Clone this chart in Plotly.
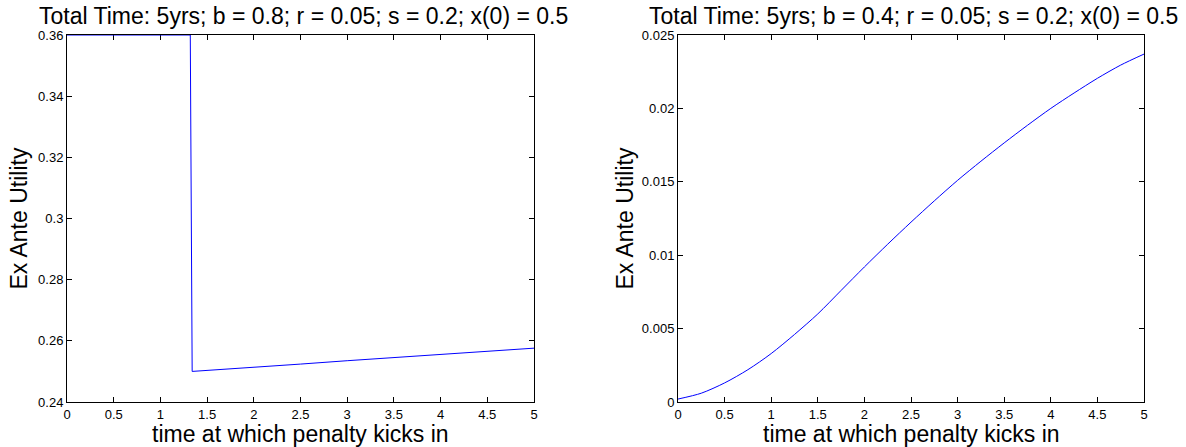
import plotly.graph_objects as go

# Left panel (b = 0.8)
left_t = [0.0, 1.32, 1.34, 1.6, 2.0, 2.5, 3.0, 3.5, 4.0, 4.5, 5.0]
left_u = [0.36, 0.36, 0.2500, 0.2505, 0.2514, 0.2524, 0.2535, 0.2545, 0.2555, 0.2566, 0.2576]

# Right panel (b = 0.4)
right_t = [0.0, 0.25, 0.5, 0.75, 1.0, 1.25, 1.5, 1.75, 2.0, 2.25, 2.5, 2.75,
           3.0, 3.25, 3.5, 3.75, 4.0, 4.25, 4.5, 4.75, 5.0]
right_u = [0.0002, 0.0006, 0.0013, 0.0022, 0.0033, 0.0046, 0.0060, 0.0076,
           0.0092, 0.01075, 0.01225, 0.0137, 0.0151, 0.0164, 0.01765, 0.01885,
           0.0200, 0.02105, 0.02205, 0.02295, 0.0237]

titles = ["Total Time: 5yrs; b = 0.8; r = 0.05; s = 0.2; x(0) = 0.5",
          "Total Time: 5yrs; b = 0.4; r = 0.05; s = 0.2; x(0) = 0.5"]
x_label = "time at which penalty kicks in"
y_label = "Ex Ante Utility"
x_ticks = [0, 0.5, 1, 1.5, 2, 2.5, 3, 3.5, 4, 4.5, 5]
x_tick_text = ["0", "0.5", "1", "1.5", "2", "2.5", "3", "3.5", "4", "4.5", "5"]
left_y_ticks = [0.24, 0.26, 0.28, 0.3, 0.32, 0.34, 0.36]
left_y_text = ["0.24", "0.26", "0.28", "0.3", "0.32", "0.34", "0.36"]
right_y_ticks = [0, 0.005, 0.01, 0.015, 0.02, 0.025]
right_y_text = ["0", "0.005", "0.01", "0.015", "0.02", "0.025"]

W, H = 1186, 447
FONT = "Liberation Sans, Arial, Helvetica, sans-serif"
TITLE_SIZE = 23
LABEL_SIZE = 23
TICK_SIZE = 13

fig = go.Figure()
fig.add_trace(go.Scatter(x=left_t, y=left_u, mode="lines", cliponaxis=False,
                         line=dict(color="#0000ff", width=1), xaxis="x", yaxis="y",
                         showlegend=False))
fig.add_trace(go.Scatter(x=right_t, y=right_u, mode="lines", cliponaxis=False,
                         line=dict(color="#0000ff", width=1, shape="spline", smoothing=0.8),
                         xaxis="x2", yaxis="y2", showlegend=False))

ydom = [(H - 402) / H, (H - 35) / H]
lx = [67 / W, 534 / W]
rx = [678 / W, 1144 / W]

common = dict(showgrid=False, zeroline=False, showline=True, linecolor="black",
              linewidth=1, mirror="ticks", ticks="inside", ticklen=5,
              tickcolor="black", automargin=False, layer="below traces",
              tickfont=dict(size=TICK_SIZE, color="black", family=FONT))

fig.update_layout(
    width=W, height=H,
    margin=dict(l=0, r=0, t=0, b=0, autoexpand=False),
    paper_bgcolor="white", plot_bgcolor="white",
    font=dict(family=FONT, color="black"),
    xaxis=dict(domain=lx, range=[0, 5], tickvals=x_ticks, ticktext=x_tick_text,
               anchor="y", **common),
    yaxis=dict(domain=ydom, range=[0.24, 0.36], tickvals=left_y_ticks,
               ticktext=left_y_text, anchor="x", **common),
    xaxis2=dict(domain=rx, range=[0, 5], tickvals=x_ticks, ticktext=x_tick_text,
                anchor="y2", **common),
    yaxis2=dict(domain=ydom, range=[0, 0.025], tickvals=right_y_ticks,
                ticktext=right_y_text, anchor="x2", **common),
)

ann = []
for dom, title in ((lx, titles[0]), (rx, titles[1])):
    cx = (dom[0] + dom[1]) / 2
    ann.append(dict(text=title, x=cx + 3 / W, y=(H - 16) / H, xref="paper", yref="paper",
                    xanchor="center", yanchor="middle", showarrow=False,
                    font=dict(size=TITLE_SIZE, family=FONT, color="black")))
    ann.append(dict(text=x_label, x=cx, y=(H - 434) / H,
                    xref="paper", yref="paper", xanchor="center", yanchor="middle",
                    showarrow=False, font=dict(size=LABEL_SIZE, family=FONT, color="black")))
for xpos in (19, 625):
    ann.append(dict(text=y_label, x=xpos / W, y=(ydom[0] + ydom[1]) / 2,
                    xref="paper", yref="paper", xanchor="center", yanchor="middle",
                    textangle=-90, showarrow=False,
                    font=dict(size=LABEL_SIZE, family=FONT, color="black")))
fig.update_layout(annotations=ann)

fig.write_html("out.html", config={"displayModeBar": False},
               post_script="document.body.style.margin='0';document.body.style.overflow='hidden';")
